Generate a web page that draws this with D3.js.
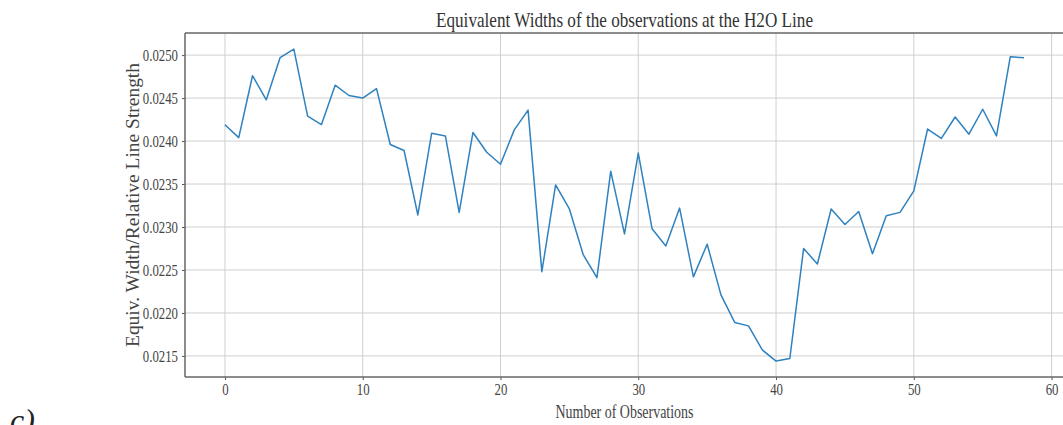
<!DOCTYPE html>
<html><head><meta charset="utf-8">
<script src="https://cdn.jsdelivr.net/npm/d3@7"></script>
<style>body{margin:0;background:#fff;} text{font-family:"Liberation Serif","DejaVu Serif",serif;}</style>
</head><body>
<svg id="chart" width="1063" height="425"></svg>
<script>
const observations = d3.range(0, 59);
const widths = [
  0.02419, 0.02404, 0.02476, 0.02448, 0.02497, 0.02507, 0.02429, 0.02419, 0.02465, 0.02453,
  0.02450, 0.02461, 0.02396, 0.02389, 0.02314, 0.02409, 0.02406, 0.02317, 0.02410, 0.02387,
  0.02373, 0.02413, 0.02436, 0.02248, 0.02349, 0.02321, 0.02268, 0.02241, 0.02365, 0.02292,
  0.02386, 0.02298, 0.02278, 0.02322, 0.02242, 0.02280, 0.02221, 0.02189, 0.02185, 0.02157,
  0.02144, 0.02147, 0.02275, 0.02257, 0.02321, 0.02303, 0.02318, 0.02269, 0.02313, 0.02317,
  0.02342, 0.02414, 0.02403, 0.02428, 0.02408, 0.02437, 0.02406, 0.02498, 0.02497
];
const xTicks = [0, 10, 20, 30, 40, 50, 60];
const yTicks = [0.0215, 0.0220, 0.0225, 0.0230, 0.0235, 0.0240, 0.0245, 0.0250];
const titleText = "Equivalent Widths of the observations at the H2O Line";
const xLabel = "Number of Observations";
const yLabel = "Equiv. Width/Relative Line Strength";

const svg = d3.select("#chart");
const L = 185, R = 1064, T = 33, B = 377;
const x = d3.scaleLinear().domain([-2.9, 60.9]).range([L, R]);
const y = d3.scaleLinear().domain([0.021255, 0.025257]).range([B, T]);

// grid
svg.append("g").selectAll("line").data(xTicks).join("line")
  .attr("x1", d => x(d)).attr("x2", d => x(d)).attr("y1", T).attr("y2", B)
  .attr("stroke", "#cfcfcf").attr("stroke-width", 1);
svg.append("g").selectAll("line").data(yTicks).join("line")
  .attr("x1", L).attr("x2", R).attr("y1", d => y(d)).attr("y2", d => y(d))
  .attr("stroke", "#cfcfcf").attr("stroke-width", 1);

// axes
const xAxis = svg.append("g").attr("transform", `translate(0,${B})`)
  .call(d3.axisBottom(x).tickValues(xTicks).tickSize(3).tickPadding(4).tickFormat(d3.format("d")));
const yAxis = svg.append("g").attr("transform", `translate(${L},0)`)
  .call(d3.axisLeft(y).tickValues(yTicks).tickSize(3).tickPadding(4).tickFormat(d3.format(".4f")));
[xAxis, yAxis].forEach(g => {
  g.select(".domain").remove();
  g.selectAll(".tick line").attr("stroke", "#555");
  g.selectAll(".tick text").attr("fill", "#444").style("font-size", "16px")
    .style("font-family", '"Liberation Serif", serif')
    .attr("lengthAdjust", "spacingAndGlyphs")
    .attr("textLength", function() { return this.getComputedTextLength() * 0.8; });
});
// spines
svg.append("line").attr("x1", L).attr("x2", L).attr("y1", T).attr("y2", B).attr("stroke", "#666").attr("stroke-width", 1.5);
svg.append("line").attr("x1", L).attr("x2", R).attr("y1", B).attr("y2", B).attr("stroke", "#666").attr("stroke-width", 1.5);
svg.append("line").attr("x1", L).attr("x2", R).attr("y1", T).attr("y2", T).attr("stroke", "#666").attr("stroke-width", 1.5);

// line
const line = d3.line().x((d, i) => x(observations[i])).y(d => y(d));
svg.append("path").datum(widths).attr("d", line)
  .attr("fill", "none").attr("stroke", "#2f82bf").attr("stroke-width", 1.5).attr("stroke-linejoin", "round");

// labels
svg.append("text").attr("x", (L + R) / 2).attr("y", 27).attr("text-anchor", "middle")
  .attr("fill", "#333").style("font-size", "22px")
  .attr("textLength", 377).attr("lengthAdjust", "spacingAndGlyphs").text(titleText);
svg.append("text").attr("x", (L + R) / 2).attr("y", 418).attr("text-anchor", "middle")
  .attr("fill", "#444").style("font-size", "18px")
  .attr("textLength", 138).attr("lengthAdjust", "spacingAndGlyphs").text(xLabel);
svg.append("text").attr("transform", "translate(139,205) rotate(-90)").attr("text-anchor", "middle")
  .attr("fill", "#444").style("font-size", "18px")
  .attr("textLength", 284).attr("lengthAdjust", "spacingAndGlyphs").text(yLabel);
svg.append("text").attr("x", 10).attr("y", 431).attr("fill", "#222")
  .style("font-size", "32px").style("font-style", "italic").text("c)");
</script>
</body></html>
